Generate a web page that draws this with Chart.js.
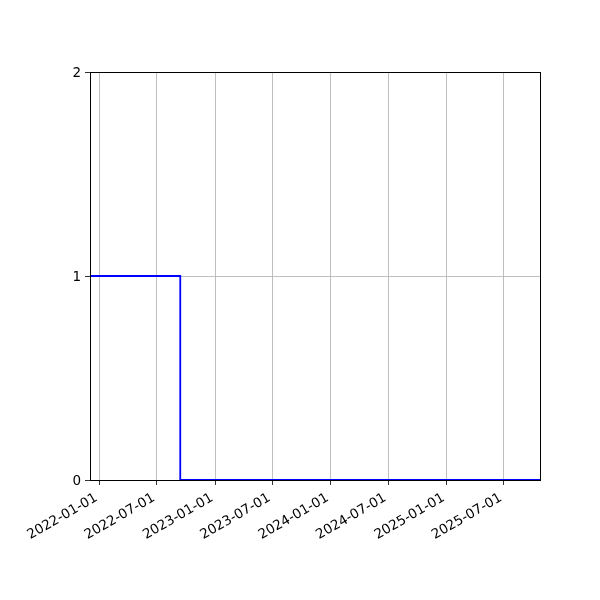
<!DOCTYPE html>
<html>
<head>
<meta charset="utf-8">
<script src="https://cdn.jsdelivr.net/npm/chart.js@4/dist/chart.umd.min.js"></script>
<style>
  html, body { margin: 0; padding: 0; background: #fff; }
  #wrap { width: 600px; height: 600px; }
</style>
</head>
<body>
<div id="wrap"><canvas id="chart" width="600" height="600"></canvas></div>
<script>
'use strict';
// step series: value holds until the next date
var stepDates = ['2021-12-02', '2022-09-13', '2025-10-23'];
var stepValues = [1, 0, 0];
var tickDates = ['2022-01-01', '2022-07-01', '2023-01-01', '2023-07-01',
	'2024-01-01', '2024-07-01', '2025-01-01', '2025-07-01'];
var yTicks = [0, 1, 2];
var xRange = ['2021-12-02', '2025-10-23'];

function ms(d) {
	var p = d.split('-');
	return Date.UTC(+p[0], +p[1] - 1, +p[2]);
}
function fmt(v) {
	var d = new Date(v);
	var m = d.getUTCMonth() + 1, day = d.getUTCDate();
	return d.getUTCFullYear() + '-' + (m < 10 ? '0' : '') + m + '-' + (day < 10 ? '0' : '') + day;
}

var frame = {
	id: 'frame',
	afterDraw: function (c) {
		var a = c.chartArea, ctx = c.ctx;
		ctx.save();
		ctx.strokeStyle = '#000';
		ctx.lineWidth = 1;
		ctx.strokeRect(Math.round(a.left) + 0.5, Math.round(a.top) + 0.5,
			Math.round(a.right - a.left), Math.round(a.bottom - a.top));
		ctx.restore();
	}
};

Chart.defaults.font.family = '"DejaVu Sans", sans-serif';
Chart.defaults.font.size = 13.5;
Chart.defaults.color = '#000';

new Chart(document.getElementById('chart'), {
	type: 'line',
	data: {
		datasets: [{
			data: stepDates.map(function (d, i) { return { x: ms(d), y: stepValues[i] }; }),
			borderColor: '#0000ff',
			borderWidth: 1.8,
			pointRadius: 0,
			fill: false,
			stepped: 'before'
		}]
	},
	plugins: [frame],
	options: {
		responsive: false,
		devicePixelRatio: 1,
		animation: false,
		layout: { padding: { left: 0, right: 60, top: 72, bottom: 0 } },
		plugins: { legend: { display: false }, tooltip: { enabled: false } },
		scales: {
			x: {
				type: 'linear',
				min: ms(xRange[0]),
				max: ms(xRange[1]),
				afterBuildTicks: function (s) {
					s.ticks = tickDates.map(function (d) { return { value: ms(d) }; });
				},
				afterFit: function (s) { s.height = 120; },
				ticks: {
					autoSkip: false,
					minRotation: 30,
					maxRotation: 30,
					padding: 5,
					labelOffset: -3,
					callback: function (v) { return fmt(v); }
				},
				grid: { color: '#b0b0b0', lineWidth: 0.8, tickColor: '#000', tickLength: 5 },
				border: { display: false }
			},
			y: {
				min: 0,
				max: 2,
				afterBuildTicks: function (s) {
					s.ticks = yTicks.map(function (v) { return { value: v }; });
				},
				afterFit: function (s) { s.width = 90; },
				ticks: { padding: 4, labelOffset: 1 },
				grid: { color: '#b0b0b0', lineWidth: 0.8, tickColor: '#000', tickLength: 5 },
				border: { display: false }
			}
		}
	}
});
</script>
</body>
</html>
